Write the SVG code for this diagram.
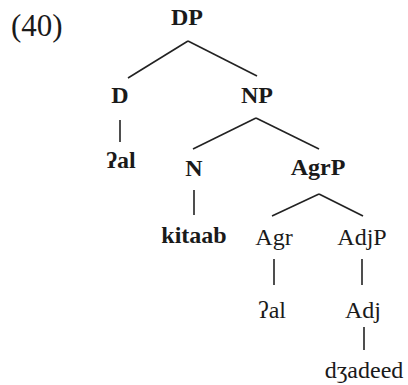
<svg xmlns="http://www.w3.org/2000/svg" width="408" height="385" viewBox="0 0 408 385">
<style>
text{font-family:"Liberation Serif","Times New Roman",serif;font-size:24px;fill:#1a1a1a;text-anchor:middle}
.b{font-weight:bold}
.edge{stroke:#222;stroke-width:1.6;fill:none}
</style>
<rect width="408" height="385" fill="#fff"/>
<text x="11" y="36" style="text-anchor:start;font-size:31px">(40)</text>
<g id="connectors">
<line class="edge" x1="188" y1="41" x2="128" y2="78"/>
<line class="edge" x1="188" y1="41" x2="257" y2="76"/>
<line class="edge" x1="120" y1="120" x2="120" y2="142"/>
<line class="edge" x1="256" y1="118" x2="193" y2="149"/>
<line class="edge" x1="256" y1="118" x2="319" y2="149"/>
<line class="edge" x1="194" y1="190" x2="194" y2="215"/>
<line class="edge" x1="319" y1="194" x2="272" y2="216"/>
<line class="edge" x1="319" y1="194" x2="363" y2="216"/>
<line class="edge" x1="274" y1="259" x2="274" y2="285"/>
<line class="edge" x1="362" y1="259" x2="362" y2="285"/>
<line class="edge" x1="364" y1="327" x2="364" y2="350"/>
</g>
<g id="DP"><text class="b" x="187" y="25">DP</text></g>
<g id="D"><text class="b" x="120" y="103">D</text></g>
<g id="NP"><text class="b" x="257" y="103">NP</text></g>
<g id="al1"><text class="b" x="121" y="168">ʔal</text></g>
<g id="N"><text class="b" x="194" y="176">N</text></g>
<g id="AgrP"><text class="b" x="318" y="175">AgrP</text></g>
<g id="kitaab"><text class="b" x="194" y="243">kitaab</text></g>
<g id="Agr"><text x="274" y="245">Agr</text></g>
<g id="AdjP"><text x="362" y="245">AdjP</text></g>
<g id="al2"><text x="272" y="318">ʔal</text></g>
<g id="Adj"><text x="363" y="318">Adj</text></g>
<g id="dzadeed"><text x="364" y="378">dʒadeed</text></g>
</svg>
